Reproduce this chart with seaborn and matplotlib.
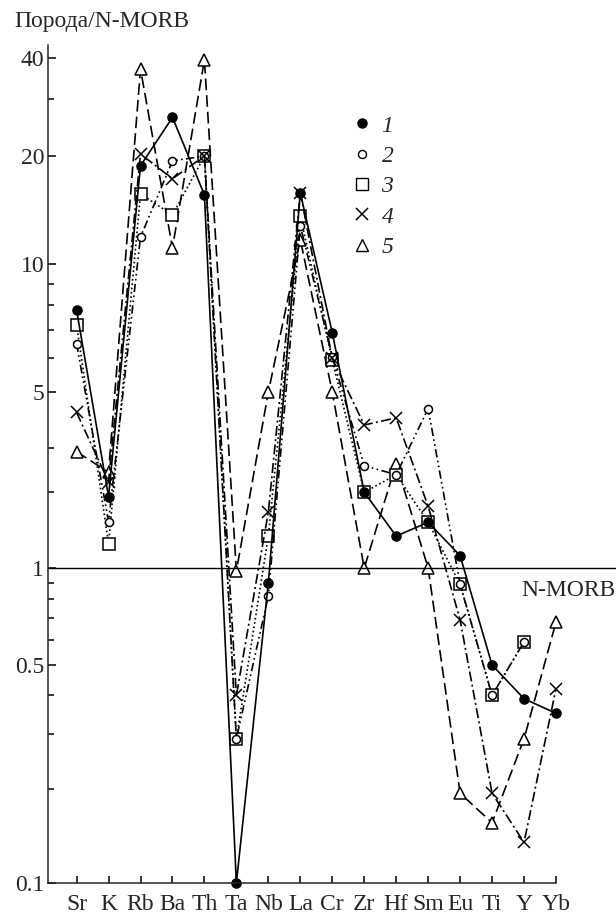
import numpy as np
import matplotlib
matplotlib.use('Agg')
import matplotlib.pyplot as plt
from matplotlib.lines import Line2D
from matplotlib.ticker import FixedLocator, FixedFormatter, NullFormatter
import seaborn as sns

# элементы (порядок на оси X)
elements = ['Sr', 'K', 'Rb', 'Ba', 'Th', 'Ta', 'Nb', 'La', 'Cr', 'Zr', 'Hf', 'Sm', 'Eu', 'Ti', 'Y', 'Yb']

# Порода/N-MORB для образцов 1-5
s1 = [7.8, 1.92, 18.8, 26.3, 15.6, 0.10, 0.90, 15.8, 6.9, 2.0, 1.34, 1.52, 1.12, 0.50, 0.39, 0.35]
s2 = [6.5, 1.53, 11.9, 19.4, 20.0, 0.29, 0.82, 12.8, 6.05, 2.55, 2.35, 4.3, 0.89, 0.40, 0.59, np.nan]
s3 = [7.2, 1.25, 15.7, 13.7, 20.0, 0.29, 1.34, 13.6, 5.95, 2.0, 2.35, 1.52, 0.89, 0.40, 0.59, np.nan]
s4 = [4.15, 2.2, 20.3, 17.3, 20.0, 0.40, 1.67, 15.8, 6.0, 3.7, 3.95, 1.76, 0.69, 0.194, 0.135, 0.42]
s5 = [2.9, 2.4, 37.0, 11.1, 39.5, 0.98, 5.0, 11.7, 5.0, 1.0, 2.6, 1.0, 0.194, 0.156, 0.29, 0.68]

series_labels = ['1', '2', '3', '4', '5']

major_ticks = [0.1, 0.5, 1, 5, 10, 20, 40]
major_labels = ['0.1', '0.5', '1', '5', '10', '20', '40']
minor_ticks = [0.2, 0.3, 0.4, 0.6, 0.7, 0.8, 0.9, 2, 3, 6, 7, 8, 9, 30]

# ось в оригинале логарифмическая, но нарисована неравномерно:
# относительное положение подписанных делений (снизу вверх)
axis_log = np.log10(major_ticks)
axis_pos = np.array([0, 218, 315, 491, 619, 727, 825], dtype=float)


def _anchors():
    lo = axis_pos[0] - (axis_log[0] + 6) * (axis_pos[1] - axis_pos[0]) / (axis_log[1] - axis_log[0])
    hi = axis_pos[-1] + (3 - axis_log[-1]) * (axis_pos[-1] - axis_pos[-2]) / (axis_log[-1] - axis_log[-2])
    xs = np.concatenate([[-6], axis_log, [3]])
    ys = np.concatenate([[lo], axis_pos, [hi]])
    return xs, ys


def forward(v):
    v = np.clip(np.asarray(v, dtype=float), 1e-6, None)
    xs, ys = _anchors()
    return np.interp(np.log10(v), xs, ys)


def inverse(u):
    xs, ys = _anchors()
    return 10 ** np.interp(np.asarray(u, dtype=float), ys, xs)


sns.set_style('ticks')
plt.rcParams['font.family'] = ['Liberation Serif', 'DejaVu Serif']

fig = plt.figure(figsize=(6.16, 9.18), dpi=100)
ax = fig.add_axes([0.0784, 0.0381, 0.8242, 0.9129])

x = np.arange(len(elements))

# (данные, маркер, заливка, размер, стиль линии)
styles = [
    (s5, '^', 'white', 8, (0, (7, 3))),
    (s3, 's', 'white', 8.5, (0, (1, 1.6))),
    (s2, 'o', 'white', 5.8, (0, (5, 2, 1, 2, 1, 2))),
    (s4, 'x', 'black', 8, (0, (6, 2, 1.2, 2))),
    (s1, 'o', 'black', 6.5, '-'),
]
for vals, mk, fc, ms, ls in styles:
    sns.lineplot(x=x, y=vals, ax=ax, color='black', linewidth=1.2, linestyle=ls,
                 marker=mk, markersize=ms, markerfacecolor=fc, markeredgecolor='black',
                 markeredgewidth=1.1, clip_on=False)

ax.set_yscale('function', functions=(forward, inverse))
ax.set_ylim(0.1, 43.9)
ax.set_xlim(-0.885, 15)

ax.yaxis.set_major_locator(FixedLocator(major_ticks))
ax.yaxis.set_major_formatter(FixedFormatter(major_labels))
ax.yaxis.set_minor_locator(FixedLocator(minor_ticks))
ax.yaxis.set_minor_formatter(NullFormatter())

ax.set_xticks(x)
ax.set_xticklabels(elements)

ax.tick_params(axis='both', which='both', direction='in', color='black', width=1.1)
ax.tick_params(axis='y', which='major', length=6, labelsize=17, pad=3)
ax.tick_params(axis='y', which='minor', length=4.5)
ax.tick_params(axis='x', which='major', length=5, labelsize=17, pad=8)

sns.despine(ax=ax)
for sp in ['left', 'bottom']:
    ax.spines[sp].set_linewidth(1.1)

# уровень N-MORB
ax.axhline(1, xmin=0, xmax=(616 - 48.3) / (556 - 48.3), color='black', linewidth=1.0, clip_on=False)
fig.text(0.999, 1 - 591 / 918, 'N-MORB', ha='right', va='center', fontsize=17)

fig.text(0.024, 1 - 22 / 918, 'Порода/N-MORB', ha='left', va='center', fontsize=17)

handles = [
    Line2D([], [], linestyle='none', marker='o', markersize=6.5, markerfacecolor='black', markeredgecolor='black'),
    Line2D([], [], linestyle='none', marker='o', markersize=5.8, markerfacecolor='white', markeredgecolor='black'),
    Line2D([], [], linestyle='none', marker='s', markersize=8.5, markerfacecolor='white', markeredgecolor='black'),
    Line2D([], [], linestyle='none', marker='x', markersize=8, markeredgecolor='black', markeredgewidth=1.1),
    Line2D([], [], linestyle='none', marker='^', markersize=8, markerfacecolor='white', markeredgecolor='black'),
]
fig.legend(handles, series_labels, loc='upper left', bbox_to_anchor=(0.568, 0.8745),
           frameon=False, borderpad=0, borderaxespad=0, handlelength=1.0,
           handletextpad=0.34, labelspacing=0.37,
           prop={'family': 'Liberation Serif', 'style': 'italic', 'size': 17})

fig.savefig('out.png', dpi=100)
